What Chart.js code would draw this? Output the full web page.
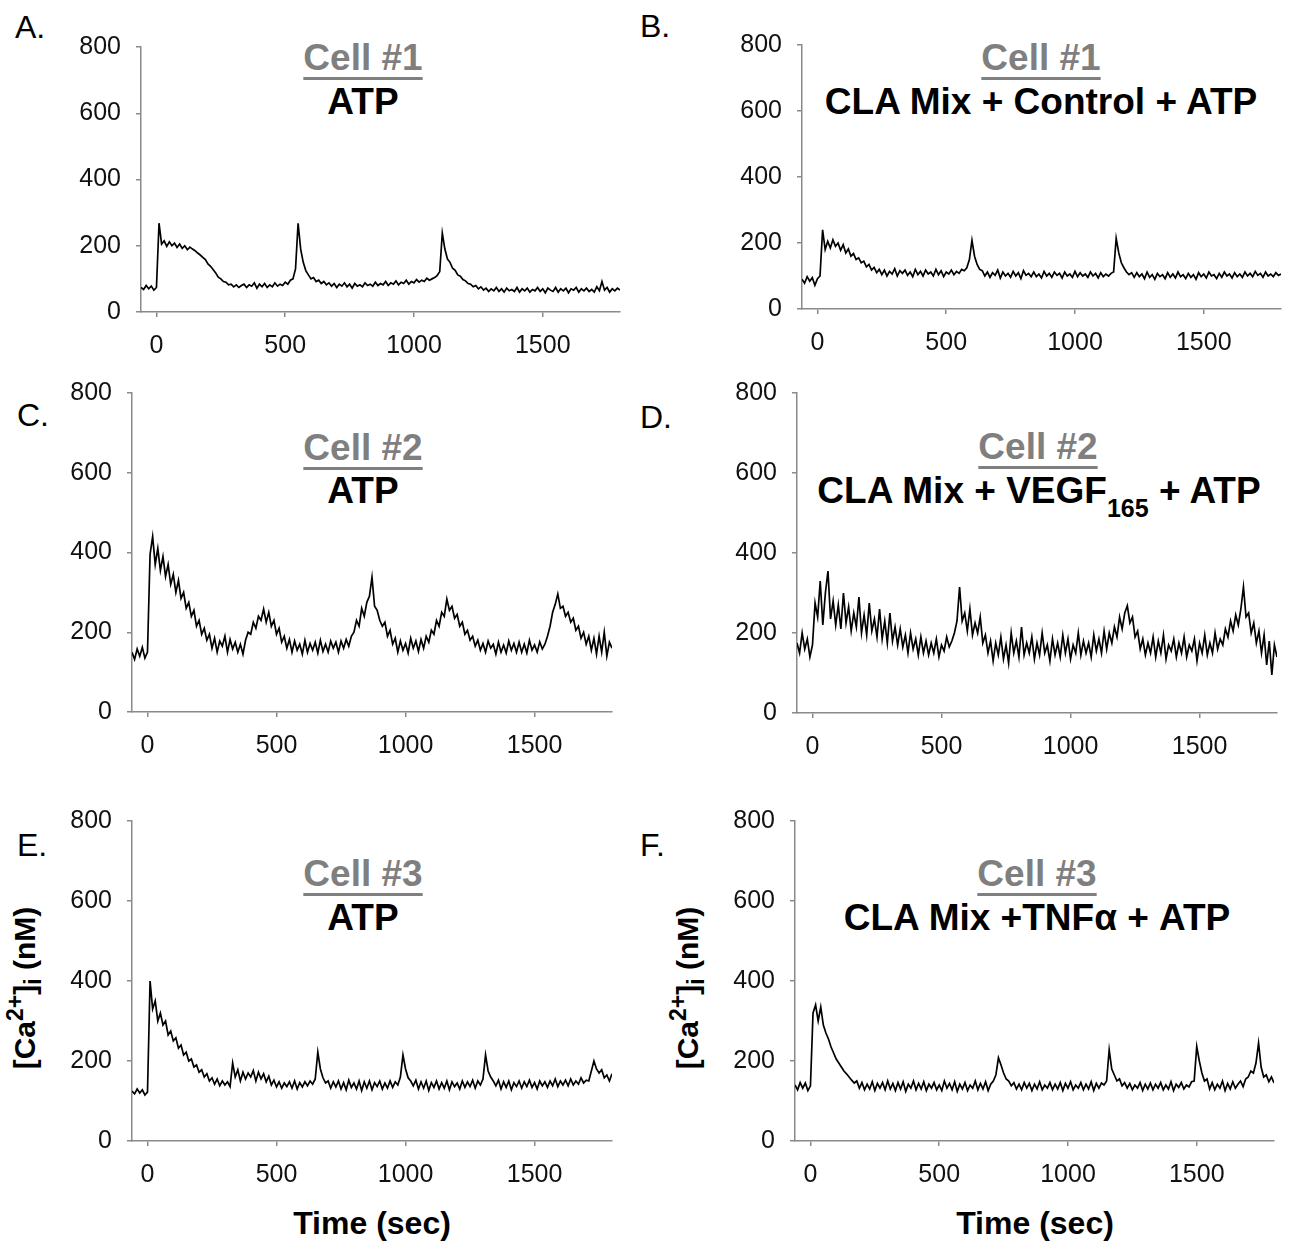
<!DOCTYPE html>
<html>
<head>
<meta charset="utf-8">
<script src="https://cdn.jsdelivr.net/npm/chart.js"></script>
<style>
body { margin: 0; background: #fff; font-family: 'Liberation Sans', Arial, sans-serif; }
#fig { position: relative; width: 1290px; height: 1243px; overflow: hidden; background: #fff; }
#fig canvas { position: absolute; }
.lbl { position: absolute; white-space: nowrap; line-height: 1; }
.letter { font-size: 32px; color: #000; }
.cell { font-size: 37px; font-weight: bold; color: #7f7f7f; text-decoration: underline; text-decoration-thickness: 3px; text-underline-offset: 7px; transform: translateX(-50%); }
.treat { font-size: 37px; font-weight: bold; color: #000; transform: translateX(-50%); }
.sub165 { font-size: 25px; position: relative; top: 14px; }
.ytitle { font-size: 30px; font-weight: bold; transform: translate(-50%, -50%) rotate(-90deg); }
.ytitle .sup { font-size: 23px; position: relative; top: -12px; }
.ytitle .sb { font-size: 23px; position: relative; top: 6px; }
.xtitle { font-size: 32px; font-weight: bold; transform: translateX(-50%); }
</style>
</head>
<body>
<div id="fig">
  <div class="lbl letter" style="left:15px;top:11px">A.</div>
  <div class="lbl letter" style="left:640px;top:10px">B.</div>
  <div class="lbl letter" style="left:17px;top:399px">C.</div>
  <div class="lbl letter" style="left:640px;top:401px">D.</div>
  <div class="lbl letter" style="left:17px;top:829px">E.</div>
  <div class="lbl letter" style="left:640px;top:829px">F.</div>

  <div class="lbl cell" style="left:363px;top:39px">Cell #1</div>
  <div class="lbl treat" style="left:363px;top:83px">ATP</div>
  <div class="lbl cell" style="left:1041px;top:39px">Cell #1</div>
  <div class="lbl treat" style="left:1041px;top:83px">CLA Mix + Control + ATP</div>

  <div class="lbl cell" style="left:363px;top:429px">Cell #2</div>
  <div class="lbl treat" style="left:363px;top:472px">ATP</div>
  <div class="lbl cell" style="left:1038px;top:428px">Cell #2</div>
  <div class="lbl treat" style="left:1039px;top:472px">CLA Mix + VEGF<span class="sub165">165</span> + ATP</div>

  <div class="lbl cell" style="left:363px;top:855px">Cell #3</div>
  <div class="lbl treat" style="left:363px;top:899px">ATP</div>
  <div class="lbl cell" style="left:1037px;top:855px">Cell #3</div>
  <div class="lbl treat" style="left:1037px;top:899px">CLA Mix +TNFα + ATP</div>

  <div class="lbl ytitle" style="left:25px;top:988px">[Ca<span class="sup">2+</span>]<span class="sb">i</span> (nM)</div>
  <div class="lbl ytitle" style="left:688px;top:988px">[Ca<span class="sup">2+</span>]<span class="sb">i</span> (nM)</div>
  <div class="lbl xtitle" style="left:372px;top:1207px">Time (sec)</div>
  <div class="lbl xtitle" style="left:1035px;top:1207px">Time (sec)</div>
</div>

<script>
// [Ca2+]i traces (nM), one value per time point

let timeSec = [
    -60, -50, -40, -30, -20, -10, 0, 10, 20, 30,
    40, 50, 60, 70, 80, 90, 100, 110, 120, 130,
    140, 150, 160, 170, 180, 190, 200, 210, 220, 230,
    240, 250, 260, 270, 280, 290, 300, 310, 320, 330,
    340, 350, 360, 370, 380, 390, 400, 410, 420, 430,
    440, 450, 460, 470, 480, 490, 500, 510, 520, 530,
    540, 550, 560, 570, 580, 590, 600, 610, 620, 630,
    640, 650, 660, 670, 680, 690, 700, 710, 720, 730,
    740, 750, 760, 770, 780, 790, 800, 810, 820, 830,
    840, 850, 860, 870, 880, 890, 900, 910, 920, 930,
    940, 950, 960, 970, 980, 990, 1000, 1010, 1020, 1030,
    1040, 1050, 1060, 1070, 1080, 1090, 1100, 1110, 1120, 1130,
    1140, 1150, 1160, 1170, 1180, 1190, 1200, 1210, 1220, 1230,
    1240, 1250, 1260, 1270, 1280, 1290, 1300, 1310, 1320, 1330,
    1340, 1350, 1360, 1370, 1380, 1390, 1400, 1410, 1420, 1430,
    1440, 1450, 1460, 1470, 1480, 1490, 1500, 1510, 1520, 1530,
    1540, 1550, 1560, 1570, 1580, 1590, 1600, 1610, 1620, 1630,
    1640, 1650, 1660, 1670, 1680, 1690, 1700, 1710, 1720, 1730,
    1740, 1750, 1760, 1770, 1780, 1790, 1800
];

// A. cell #1, ATP
let cell1Atp = [
    74, 68, 80, 70, 78, 66, 74, 268, 205, 215,
    198, 212, 200, 208, 195, 205, 192, 200, 188, 196,
    190, 185, 178, 172, 165, 158, 145, 138, 128, 118,
    105, 100, 92, 90, 82, 84, 76, 82, 74, 80,
    84, 74, 82, 78, 88, 72, 84, 76, 86, 74,
    82, 76, 88, 78, 84, 80, 90, 84, 96, 100,
    130, 268, 190, 150, 125, 112, 100, 104, 92, 96,
    86, 92, 82, 88, 78, 86, 74, 84, 78, 88,
    76, 84, 72, 86, 78, 82, 76, 88, 80, 84,
    78, 90, 80, 86, 82, 92, 80, 88, 84, 94,
    82, 90, 86, 96, 84, 92, 88, 98, 90, 96,
    92, 102, 96, 100, 104, 110, 122, 238, 190, 160,
    150, 132, 126, 112, 108, 98, 94, 86, 84, 76,
    80, 70, 76, 66, 72, 62, 70, 64, 74, 62,
    70, 60, 72, 64, 68, 62, 74, 60, 70, 64,
    72, 60, 68, 64, 74, 62, 70, 58, 72, 66,
    62, 74, 60, 70, 64, 72, 58, 70, 66, 74,
    60, 70, 64, 72, 62, 68, 60, 76, 64, 92,
    66, 74, 60, 70, 64, 72, 66
];

// B. cell #1, CLA mix + control + ATP
let cell1Control = [
    90, 78, 98, 84, 95, 72, 92, 100, 240, 180,
    205, 185, 210, 190, 200, 178, 195, 170, 182, 160,
    168, 150, 155, 140, 145, 128, 135, 118, 126, 110,
    120, 104, 118, 100, 114, 106, 122, 100, 116, 108,
    118, 102, 112, 98, 120, 104, 114, 100, 118, 106,
    112, 100, 120, 104, 116, 98, 112, 106, 118, 104,
    114, 108, 120, 116, 125, 150, 208, 160, 135, 120,
    116, 100, 112, 96, 110, 102, 118, 94, 112, 100,
    108, 96, 114, 100, 110, 92, 116, 102, 108, 98,
    112, 98, 106, 94, 114, 100, 108, 96, 112, 102,
    108, 94, 112, 100, 106, 96, 114, 98, 110, 100,
    106, 96, 112, 100, 108, 94, 110, 98, 106, 100,
    108, 112, 214, 170, 140, 125, 112, 104, 110, 96,
    110, 98, 106, 92, 112, 96, 104, 90, 108, 98,
    104, 92, 110, 96, 106, 94, 112, 98, 104, 92,
    108, 96, 104, 90, 110, 98, 106, 94, 112, 100,
    104, 92, 108, 96, 112, 100, 106, 94, 110, 98,
    106, 96, 112, 100, 108, 98, 114, 102, 108, 96,
    112, 100, 106, 98, 110, 102, 106
];

// C. cell #2, ATP
let cell2Atp = [
    150, 132, 158, 140, 162, 135, 150, 395, 440, 370,
    410, 355, 390, 340, 370, 320, 345, 300, 330, 285,
    300, 260, 275, 240, 255, 215, 230, 195, 210, 180,
    195, 160, 185, 150, 178, 165, 190, 150, 182, 158,
    175, 150, 170, 145, 180, 200, 195, 225, 210, 240,
    230, 258, 225, 250, 215, 230, 195, 210, 175, 190,
    160, 182, 150, 178, 155, 170, 145, 180, 150, 172,
    155, 175, 148, 180, 152, 170, 150, 178, 160, 175,
    150, 178, 160, 182, 165, 190, 200, 230, 215, 260,
    240, 275, 290, 338, 265, 255, 230, 215, 225, 190,
    205, 170, 185, 150, 178, 155, 172, 148, 185, 160,
    178, 152, 182, 160, 190, 175, 205, 195, 230, 215,
    250, 240, 283, 255, 265, 235, 245, 215, 225, 195,
    205, 180, 190, 165, 180, 155, 172, 150, 178, 160,
    170, 145, 175, 150, 168, 148, 178, 155, 172, 150,
    175, 150, 170, 148, 180, 155, 168, 150, 176, 158,
    170, 190, 215, 250, 270, 296, 260, 265, 240, 250,
    225, 235, 205, 215, 185, 200, 170, 190, 155, 185,
    145, 190, 150, 200, 140, 175, 160
];

// D. cell #2, CLA mix + VEGF165 + ATP
let cell2Vegf = [
    175, 150, 200, 160, 185, 140, 170, 275, 240, 330,
    220, 300, 355, 235, 280, 220, 270, 210, 300, 225,
    265, 205, 250, 215, 290, 200, 245, 195, 275, 205,
    235, 190, 260, 185, 230, 175, 250, 180, 215, 170,
    210, 165, 195, 150, 200, 160, 185, 145, 190, 150,
    180, 145, 175, 150, 185, 140, 170, 155, 190, 165,
    180, 200, 230, 315, 230, 250, 205, 260, 195, 225,
    200, 240, 175, 195, 150, 180, 130, 175, 145, 190,
    135, 170, 125, 200, 150, 180, 140, 215, 145, 175,
    150, 190, 135, 175, 145, 200, 150, 170, 130, 185,
    145, 175, 140, 195, 150, 185, 135, 170, 150, 200,
    145, 180, 150, 175, 140, 195, 155, 185, 150, 205,
    160, 200, 175, 215, 190, 240, 210, 250, 268, 225,
    240, 190, 205, 160, 185, 145, 175, 150, 190, 140,
    180, 150, 195, 135, 170, 155, 185, 140, 175, 150,
    190, 140, 170, 155, 185, 130, 175, 150, 195, 145,
    175, 150, 200, 160, 185, 170, 210, 190, 230, 205,
    245, 220, 260, 315, 240, 250, 200, 225, 175, 205,
    150, 195, 120, 180, 95, 170, 140
];

// E. cell #3, ATP
let cell3Atp = [
    125, 118, 130, 120, 128, 115, 122, 400, 330, 350,
    300, 320, 290, 300, 265, 275, 250, 258, 232, 240,
    215, 222, 200, 205, 185, 190, 172, 178, 160, 168,
    150, 158, 142, 155, 138, 150, 140, 148, 136, 195,
    160, 178, 150, 172, 155, 170, 160, 176, 150, 172,
    155, 168, 148, 162, 140, 152, 135, 148, 132, 145,
    136, 148, 132, 150, 130, 146, 135, 148, 138, 150,
    142, 155, 222, 180, 158, 145, 150, 132, 148, 135,
    150, 130, 146, 128, 152, 134, 145, 130, 150, 126,
    148, 132, 150, 128, 146, 136, 150, 130, 145, 132,
    150, 134, 148, 140, 160, 215, 180, 158, 150, 138,
    152, 130, 148, 132, 150, 126, 146, 134, 150, 130,
    146, 132, 150, 128, 148, 136, 145, 130, 150, 134,
    148, 136, 152, 132, 150, 140, 155, 215, 175, 160,
    150, 138, 152, 130, 148, 134, 150, 128, 146, 136,
    150, 132, 148, 136, 152, 134, 146, 130, 150, 138,
    148, 134, 150, 138, 155, 136, 150, 140, 152, 138,
    155, 140, 150, 142, 158, 145, 152, 150, 175, 200,
    180, 170, 178, 158, 165, 150, 168
];

// F. cell #3, CLA mix + TNFa + ATP
let cell3Tnf = [
    140, 128, 146, 132, 145, 126, 138, 320, 340, 300,
    335, 290, 270, 255, 235, 220, 205, 195, 185, 175,
    168, 160, 152, 145, 150, 132, 146, 128, 142, 130,
    148, 126, 144, 132, 146, 128, 150, 130, 144, 126,
    146, 130, 148, 124, 142, 132, 150, 128, 144, 130,
    148, 126, 142, 132, 146, 128, 140, 126, 150, 132,
    144, 128, 148, 124, 142, 130, 146, 126, 140, 132,
    150, 128, 144, 130, 148, 126, 142, 150, 165, 208,
    190, 170, 155, 150, 138, 146, 130, 142, 128, 146,
    132, 144, 126, 142, 130, 148, 128, 140, 132, 146,
    128, 142, 130, 146, 126, 144, 132, 148, 128, 140,
    132, 146, 128, 142, 130, 148, 126, 144, 132, 145,
    140, 150, 228, 180, 165, 150, 155, 138, 146, 132,
    144, 128, 140, 132, 146, 126, 142, 130, 145, 128,
    142, 132, 146, 128, 140, 130, 148, 126, 142, 134,
    146, 130, 140, 135, 148, 150, 236, 200, 170, 150,
    155, 130, 146, 128, 142, 132, 150, 126, 144, 130,
    148, 132, 142, 150, 136, 155, 160, 175, 170, 195,
    245, 185, 160, 165, 148, 160, 145
];

let xTickValues = [0, 500, 1000, 1500];
let yTickValues = [0, 200, 400, 600, 800];

// plot area of each panel in page pixels: left, top, right, bottom
let panels = [
    { values: cell1Atp, box: [141, 47, 620, 312] },
    { values: cell1Control, box: [802, 45, 1281, 309] },
    { values: cell2Atp, box: [132, 393, 612, 712] },
    { values: cell2Vegf, box: [797, 393, 1277, 713] },
    { values: cell3Atp, box: [132, 821, 612, 1141] },
    { values: cell3Tnf, box: [795, 821, 1274, 1141] }
];

const AXIS_COLOR = '#8a8a8a';
const FONT = "'Liberation Sans', Arial, sans-serif";

function panelConfig(values) {
    let points = [];
    for (let i = 0; i < timeSec.length; i++) {
        points.push({ x: timeSec[i], y: values[i] });
    }
    return {
        type: 'scatter',
        data: {
            datasets: [{
                data: points,
                showLine: true,
                borderColor: '#000',
                borderWidth: 1.7,
                borderJoinStyle: 'miter',
                pointRadius: 0,
                tension: 0
            }]
        },
        options: {
            responsive: false,
            maintainAspectRatio: false,
            animation: false,
            layout: { padding: { left: 0, top: 20, right: 20, bottom: 0 } },
            plugins: { legend: { display: false }, tooltip: { enabled: false } },
            scales: {
                x: {
                    type: 'linear',
                    min: -60,
                    max: 1800,
                    afterBuildTicks: function (s) { s.ticks = xTickValues.map(v => ({ value: v })); },
                    afterFit: function (s) { s.height = 50; },
                    border: { display: true, color: AXIS_COLOR, width: 1.5 },
                    grid: { drawOnChartArea: false, tickLength: 5, color: AXIS_COLOR, lineWidth: 1.5 },
                    ticks: {
                        font: { size: 25, family: FONT },
                        color: '#111',
                        padding: 14,
                        maxRotation: 0,
                        autoSkip: false,
                        callback: v => String(v)
                    }
                },
                y: {
                    type: 'linear',
                    min: 0,
                    max: 800,
                    afterBuildTicks: function (s) { s.ticks = yTickValues.map(v => ({ value: v })); },
                    afterFit: function (s) { s.width = 80; },
                    border: { display: true, color: AXIS_COLOR, width: 1.5 },
                    grid: { drawOnChartArea: false, tickLength: 5, color: AXIS_COLOR, lineWidth: 1.5 },
                    ticks: {
                        font: { size: 25, family: FONT },
                        color: '#111',
                        padding: 15,
                        autoSkip: false,
                        callback: v => String(v)
                    }
                }
            }
        }
    };
}

function drawPanel(panel) {
    let b = panel.box;
    let w = b[2] - b[0];
    let h = b[3] - b[1];
    let canvas = document.createElement('canvas');
    canvas.width = w + 100;
    canvas.height = h + 70;
    document.getElementById('fig').appendChild(canvas);

    // first pass only measures where the plot area lands inside the canvas
    let probe = new Chart(canvas.getContext('2d'), panelConfig(panel.values));
    let area = probe.chartArea;
    let offLeft = area.left;
    let offTop = area.top;
    let offRight = canvas.width - area.right;
    let offBottom = canvas.height - area.bottom;
    probe.destroy();

    canvas.width = w + offLeft + offRight;
    canvas.height = h + offTop + offBottom;
    canvas.style.left = (b[0] - offLeft) + 'px';
    canvas.style.top = (b[1] - offTop) + 'px';
    new Chart(canvas.getContext('2d'), panelConfig(panel.values));
}

for (let i = 0; i < panels.length; i++) {
    drawPanel(panels[i]);
}
</script>
</body>
</html>
